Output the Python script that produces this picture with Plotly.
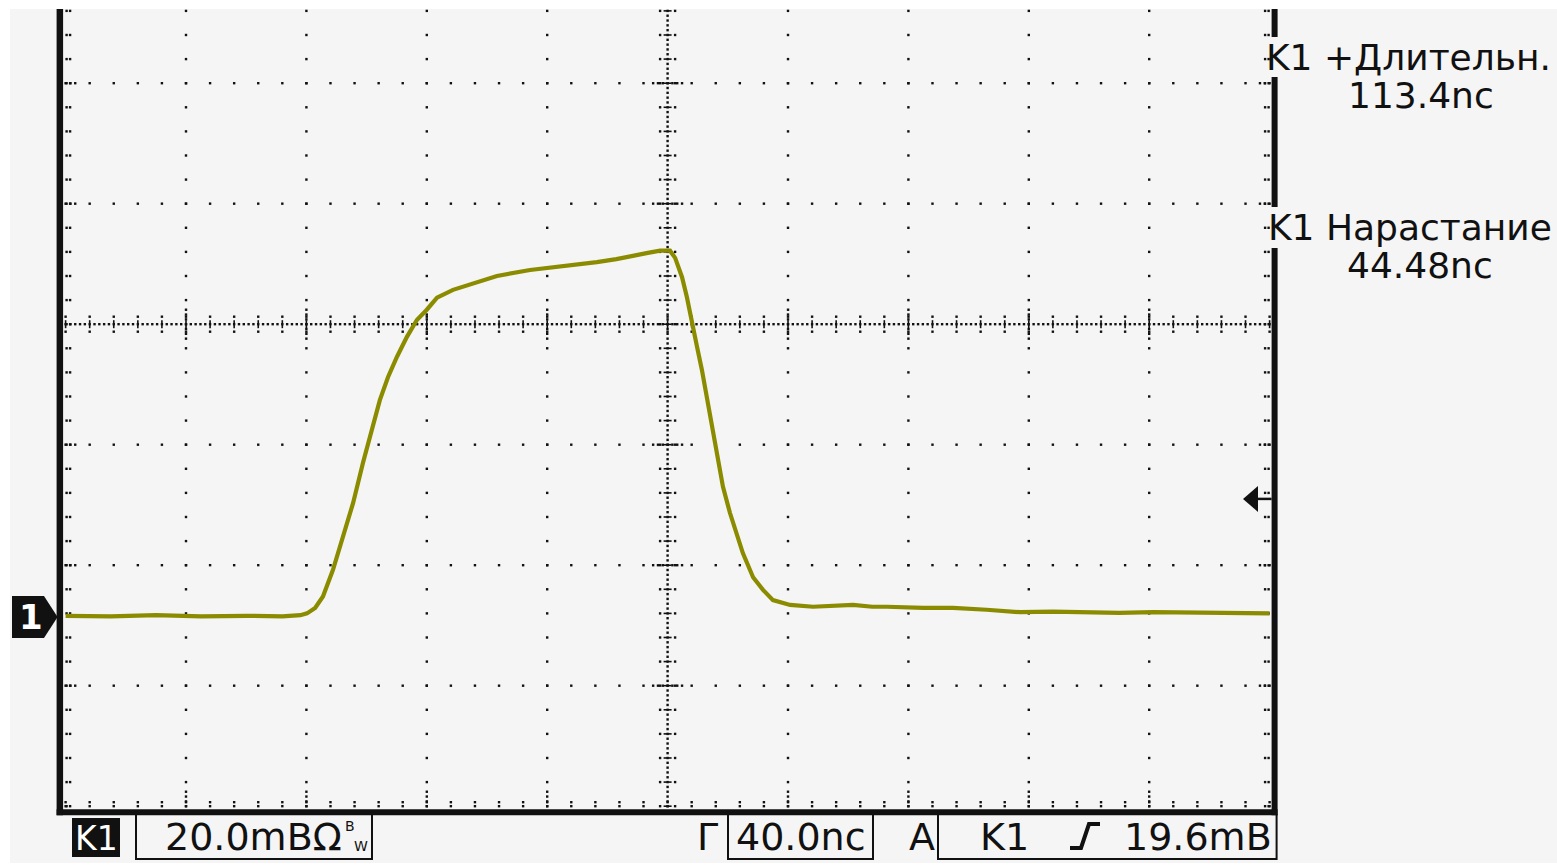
import plotly.graph_objects as go

# ---------------- data read from the screen ----------------
# scope settings
NS_PER_DIV = 40.0        # horizontal scale (Г 40.0nc)
MV_PER_DIV = 20.0        # vertical scale (K1 20.0mB)
TRIGGER_MV = 19.6        # trigger level (A K1 19.6mB)
H_DIVS = 10
CENTER_ROW_MV = 48.6     # level of the centre graticule line relative to the ground marker

# waveform, time in ns relative to the trigger point, amplitude in mV
t_ns = [-200, -185, -170, -155, -140, -128, -122, -119.8, -117.1, -114.5,
        -111.2, -107.8, -104.5, -101.2, -98.2, -95.6, -92.9, -89.9, -86.6, -83.3,
        -80.0, -76.6, -71.3, -64.7, -56.7, -45.7, -34.8, -23.5, -17.0, -12.5,
        -7.0, -2.5, 0.8, 2.5, 4.8, 6.4, 8.1, 9.8, 11.4, 13.1,
        14.8, 16.4, 18.4, 20.7, 23.1, 25.0, 28.4, 31.7, 35.0, 40.7,
        48.3, 55.0, 61.6, 68.0, 72.9, 85.0, 94.8, 106.0, 117.1, 128.0,
        139.4, 150.0, 161.3, 172.0, 183.6, 192.0, 200.0]
v_mv = [0.2, 0.1, 0.3, 0.1, 0.2, 0.1, 0.3, 0.6, 1.5, 3.4,
        7.8, 13.3, 18.9, 25.6, 31.5, 36.0, 39.8, 43.2, 46.5, 49.3,
        51.0, 53.0, 54.3, 55.4, 56.6, 57.6, 58.2, 58.9, 59.4, 59.9,
        60.4, 60.8, 60.8, 59.6, 56.4, 53.1, 49.3, 44.8, 41.0, 36.5,
        31.5, 27.2, 21.6, 17.3, 13.3, 10.6, 6.6, 4.5, 2.8, 2.0,
        1.7, 1.9, 2.0, 1.7, 1.7, 1.5, 1.5, 1.2, 0.8, 0.9,
        0.8, 0.7, 0.8, 0.7, 0.7, 0.5, 0.6]

# screen texts
meas_labels = ["K1 +Длительн.", "K1 Нарастание"]
meas_values = ["113.4nc", "44.48nc"]
ch_label = "K1"
ch_scale = "20.0mBΩ"
time_label = "Г"
time_scale = "40.0nc"
trig_label = "A"
trig_source = "K1"
trig_level = "19.6mB"
ground_label = "1"

# ---------------- layout geometry ----------------
W, H = 1557, 865
X0_PX = 667.6        # pixel column of t = 0
PX_PER_NS = 3.01
Y0_PX = 617.0        # pixel row of 0 mV (ground)
PX_PER_MV = 6.025
SCREEN_TOP_PX = 9
INK = "#111111"
TRACE = "#8b8b00"
FONT = "DejaVu Sans"


def t2px(t):
    return X0_PX + t * PX_PER_NS


def v2px(v):
    return Y0_PX - v * PX_PER_MV


def dx(px):
    return px / PX_PER_NS


def dy(px):
    return px / PX_PER_MV


def pp(xp, yp):
    return f"{xp / W:.5f},{1 - yp / H:.5f}"


x_range = [(0 - X0_PX) / PX_PER_NS, (W - X0_PX) / PX_PER_NS]
y_range = [(Y0_PX - H) / PX_PER_MV, Y0_PX / PX_PER_MV]

x_lo = -H_DIVS / 2 * NS_PER_DIV
x_hi = H_DIVS / 2 * NS_PER_DIV
y_bot = CENTER_ROW_MV - 4 * MV_PER_DIV
y_top = (Y0_PX - SCREEN_TOP_PX) / PX_PER_MV
minor_x = NS_PER_DIV / 5
minor_y = MV_PER_DIV / 5
dense_x = minor_x / 5
dense_y = minor_y / 5


def frange(a, b, step):
    out = []
    i = 0
    while a + i * step <= b + 1e-9:
        out.append(a + i * step)
        i += 1
    return out


rows = [CENTER_ROW_MV + k * MV_PER_DIV for k in (-3, -2, -1, 1, 2)]
cols = [x_lo + i * NS_PER_DIV for i in range(1, H_DIVS) if i != H_DIVS // 2]

gx, gy = [], []
# major rows / columns
for r in rows:
    for x in frange(x_lo, x_hi, minor_x):
        gx.append(x); gy.append(r)
    for k in (1, 2, 3):
        for s in (-1, 1):
            gx.append(s * k * dense_x); gy.append(r)
    for k in (1, 2):
        gx.append(x_lo + k * dense_x); gy.append(r)
        gx.append(x_hi - k * dense_x); gy.append(r)
for c in cols:
    for y in frange(y_bot, y_top, minor_y):
        gx.append(c); gy.append(y)
    for k in (1, 2, 3):
        for s in (-1, 1):
            gx.append(c); gy.append(CENTER_ROW_MV + s * k * dense_y)
    for k in (1, 2, 3):
        gx.append(c); gy.append(y_bot + k * dense_y)
# centre row and column (dense)
for x in frange(x_lo, x_hi, dense_x):
    gx.append(x); gy.append(CENTER_ROW_MV)
for y in frange(y_bot, y_top, dense_y):
    gx.append(0); gy.append(y)
# tick end dots on centre lines
for x in frange(x_lo, x_hi, minor_x):
    for s in (-1, 1):
        gx.append(x); gy.append(CENTER_ROW_MV + s * dy(7.5))
for y in frange(y_bot, y_top, minor_y):
    for s in (-1, 1):
        gx.append(s * dx(7.5)); gy.append(y)
# border ticks
for y in frange(y_bot, y_top, minor_y):
    for off in (1.0, 4.5):
        gx.append(x_lo + dx(off)); gy.append(y)
        gx.append(x_hi - dx(off)); gy.append(y)
for x in frange(x_lo, x_hi, minor_x):
    for off in (0.0, 4.0):
        gx.append(x); gy.append(y_bot + dy(off))

# tick bars on centre lines
bx, by = [], []
for x in frange(x_lo, x_hi, minor_x):
    bx += [x, x, None]
    by += [CENTER_ROW_MV - dy(4), CENTER_ROW_MV + dy(4), None]
for y in frange(y_bot, y_top, minor_y):
    bx += [-dx(4), dx(4), None]
    by += [y, y, None]

fig = go.Figure()
fig.add_trace(go.Scatter(x=gx, y=gy, mode="markers", hoverinfo="skip",
                         marker=dict(symbol="square", size=2.4, color=INK, line=dict(width=0))))
fig.add_trace(go.Scatter(x=bx, y=by, mode="lines", hoverinfo="skip",
                         line=dict(color=INK, width=1.6)))
fig.add_trace(go.Scatter(x=t_ns, y=v_mv, mode="lines", hoverinfo="skip",
                         line=dict(color=TRACE, width=4.2)))

shapes = []
# screen background
shapes.append(dict(type="rect", xref="paper", yref="paper", layer="below",
                   x0=10 / W, x1=1, y0=1 - 863 / H, y1=1 - SCREEN_TOP_PX / H,
                   fillcolor="#f5f5f5", line=dict(width=0)))


def prect(x0, y0, x1, y1, fill=INK, line_w=0, layer="above"):
    return dict(type="rect", xref="paper", yref="paper", layer=layer,
                x0=x0 / W, x1=x1 / W, y0=1 - y1 / H, y1=1 - y0 / H,
                fillcolor=fill, line=dict(width=line_w, color=INK))


left_px = t2px(x_lo)
right_px = t2px(x_hi)
bot_px = v2px(y_bot)
# graticule frame
shapes.append(prect(left_px - 9, SCREEN_TOP_PX, left_px - 2.5, bot_px + 9))
shapes.append(prect(left_px - 9, bot_px + 3, right_px + 8, bot_px + 9))
for (a, b) in [(SCREEN_TOP_PX, 37), (77, 207), (248, bot_px + 9)]:
    shapes.append(prect(right_px + 2, a, right_px + 8, b))

# ground marker
gy_px = v2px(0)
shapes.append(dict(type="path", xref="paper", yref="paper", layer="above",
                   path=f"M{pp(12, gy_px - 21)} L{pp(44, gy_px - 21)} L{pp(left_px - 8, gy_px)} "
                        f"L{pp(44, gy_px + 21)} L{pp(12, gy_px + 21)} Z",
                   fillcolor=INK, line=dict(width=0)))
# trigger level arrow
ty_px = v2px(TRIGGER_MV)
shapes.append(dict(type="path", xref="paper", yref="paper", layer="above",
                   path=f"M{pp(1243, ty_px)} L{pp(1258, ty_px - 13)} L{pp(1258, ty_px + 13)} Z",
                   fillcolor=INK, line=dict(width=0)))
shapes.append(dict(type="line", xref="paper", yref="paper", layer="above",
                   x0=1256 / W, x1=(right_px + 2) / W, y0=1 - ty_px / H, y1=1 - ty_px / H,
                   line=dict(color=INK, width=2.5)))

# bottom read-out boxes
shapes.append(prect(72, 818, 120, 857))
for (x0, x1) in [(136, 372), (728, 873), (938, right_px + 7)]:
    shapes.append(dict(type="path", xref="paper", yref="paper", layer="above",
                       path=f"M{pp(x0, bot_px + 8)} L{pp(x0, 859)} L{pp(x1, 859)} L{pp(x1, bot_px + 8)}",
                       line=dict(color=INK, width=2)))
# rising edge symbol
shapes.append(dict(type="path", xref="paper", yref="paper", layer="above",
                   path=f"M{pp(1070, 848)} L{pp(1081, 848)} L{pp(1089, 824)} L{pp(1100, 824)}",
                   line=dict(color=INK, width=4)))

ann = []


def text(s, xp, yp, size, anchor="center", color=INK, bold=False):
    ann.append(dict(text=f"<b>{s}</b>" if bold else s, xref="paper", yref="paper",
                    x=xp / W, y=1 - yp / H, xanchor=anchor, yanchor="middle",
                    showarrow=False, font=dict(family=FONT, size=size, color=color)))


text(meas_labels[0], 1264, 57, 36, "left")
text(meas_values[0], 1421, 95, 36)
text(meas_labels[1], 1266, 228, 36, "left")
text(meas_values[1], 1420, 266, 36)

text(ch_label, 96, 838, 33, color="white")
text(ch_scale, 344, 837, 38, "right")
text("B", 350, 826, 14)
text("W", 361, 846, 14)
text(time_label, 708, 837, 38)
text(time_scale, 801, 837, 38)
text(trig_label, 922, 837, 38)
text(trig_source, 1004, 837, 38)
text(trig_level, 1274, 837, 38, "right")
text(ground_label, 31, gy_px, 34, color="white", bold=True)

fig.update_layout(
    width=W, height=H, autosize=False,
    margin=dict(l=0, r=0, t=0, b=0, pad=0),
    paper_bgcolor="white", plot_bgcolor="rgba(0,0,0,0)",
    showlegend=False,
    xaxis=dict(range=x_range, visible=False, fixedrange=True),
    yaxis=dict(range=y_range, visible=False, fixedrange=True),
    shapes=shapes, annotations=ann,
)

fig.write_html("out.html", config={"displayModeBar": False, "staticPlot": True},
               post_script="document.body.style.margin='0px';document.body.style.overflow='hidden';")
